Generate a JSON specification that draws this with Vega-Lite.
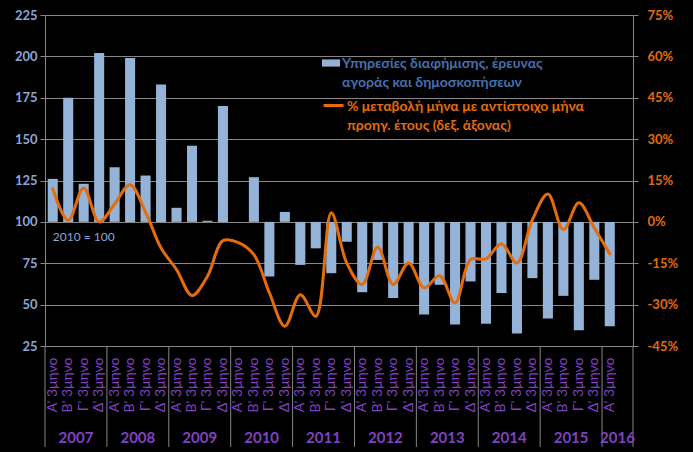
{
  "$schema": "https://vega.github.io/schema/vega-lite/v6.json",
  "width": 588,
  "height": 331,
  "autosize": {"type": "none"},
  "padding": {"left": 45, "top": 15, "right": 60, "bottom": 106},
  "background": "#000000",
  "config": {"view": {"stroke": null}, "font": "Lato"},
  "datasets": {
    "quarters": [
      {"q": "2007-1", "v": 126, "p": 12.0},
      {"q": "2007-2", "v": 175, "p": 0.6},
      {"q": "2007-3", "v": 123, "p": 12.3},
      {"q": "2007-4", "v": 202, "p": 0.0},
      {"q": "2008-1", "v": 133, "p": 6.5},
      {"q": "2008-2", "v": 199, "p": 13.5},
      {"q": "2008-3", "v": 128, "p": 3.5},
      {"q": "2008-4", "v": 183, "p": -9.5},
      {"q": "2009-1", "v": 108.5, "p": -17.3},
      {"q": "2009-2", "v": 146, "p": -26.7},
      {"q": "2009-3", "v": 100.7, "p": -19.7},
      {"q": "2009-4", "v": 170, "p": -6.8},
      {"q": "2010-1", "v": 100, "p": -7.5},
      {"q": "2010-2", "v": 127, "p": -11.9},
      {"q": "2010-3", "v": 67, "p": -25.7},
      {"q": "2010-4", "v": 106, "p": -37.8},
      {"q": "2011-1", "v": 74, "p": -26.4},
      {"q": "2011-2", "v": 84, "p": -34.2},
      {"q": "2011-3", "v": 69, "p": 3.3},
      {"q": "2011-4", "v": 88, "p": -14.9},
      {"q": "2012-1", "v": 57.5, "p": -22.7},
      {"q": "2012-2", "v": 77, "p": -9.1},
      {"q": "2012-3", "v": 54, "p": -22.7},
      {"q": "2012-4", "v": 75, "p": -14.9},
      {"q": "2013-1", "v": 44, "p": -23.9},
      {"q": "2013-2", "v": 62, "p": -19.5},
      {"q": "2013-3", "v": 38, "p": -29.4},
      {"q": "2013-4", "v": 64, "p": -13.7},
      {"q": "2014-1", "v": 38.4, "p": -13.4},
      {"q": "2014-2", "v": 57, "p": -7.9},
      {"q": "2014-3", "v": 32.5, "p": -14.9},
      {"q": "2014-4", "v": 66, "p": 0.8},
      {"q": "2015-1", "v": 41.6, "p": 10.1},
      {"q": "2015-2", "v": 55.3, "p": -2.8},
      {"q": "2015-3", "v": 34.5, "p": 6.9},
      {"q": "2015-4", "v": 65, "p": -2.2},
      {"q": "2016-1", "v": 37, "p": -11.6}
    ],
    "years": [
      {"year": "2007", "start": "2007-1", "mid": "2007-3"},
      {"year": "2008", "start": "2008-1", "mid": "2008-3"},
      {"year": "2009", "start": "2009-1", "mid": "2009-3"},
      {"year": "2010", "start": "2010-1", "mid": "2010-3"},
      {"year": "2011", "start": "2011-1", "mid": "2011-3"},
      {"year": "2012", "start": "2012-1", "mid": "2012-3"},
      {"year": "2013", "start": "2013-1", "mid": "2013-3"},
      {"year": "2014", "start": "2014-1", "mid": "2014-3"},
      {"year": "2015", "start": "2015-1", "mid": "2015-3"},
      {"year": "2016", "start": "2016-1", "mid": "2016-2"}
    ],
    "note": [{"label": "2010 = 100", "q": "2007-3"}]
  },
  "layer": [
    {
      "layer": [
        {
          "data": {"name": "quarters"},
          "mark": {"type": "bar", "width": {"band": 0.65}},
          "encoding": {
            "x": {
              "field": "q", "type": "nominal", "sort": null, "title": null,
              "scale": {
                "type": "band", "paddingInner": 0, "paddingOuter": 0,
                "domain": ["2007-1","2007-2","2007-3","2007-4","2008-1","2008-2","2008-3","2008-4","2009-1","2009-2","2009-3","2009-4","2010-1","2010-2","2010-3","2010-4","2011-1","2011-2","2011-3","2011-4","2012-1","2012-2","2012-3","2012-4","2013-1","2013-2","2013-3","2013-4","2014-1","2014-2","2014-3","2014-4","2015-1","2015-2","2015-3","2015-4","2016-1","2016-2"]
              },
              "axis": {
                "title": null, "labelAngle": -90, "ticks": false, "domain": true, "domainColor": "#868686",
                "labelColor": "#8042C2", "labelFontSize": 14, "labelPadding": 11, "labelOverlap": false,
                "labelExpr": "slice(datum.value,5) == '1' ? \"Α' 3μηνο\" : slice(datum.value,5) == '2' ? (datum.value == '2016-2' ? '' : \"Β' 3μηνο\") : slice(datum.value,5) == '3' ? \"Γ' 3μηνο\" : \"Δ' 3μηνο\""
              }
            },
            "y": {
              "field": "v", "type": "quantitative", "title": null,
              "scale": {"domain": [25, 225], "nice": false, "zero": false},
              "axis": {
                "title": null, "values": [25, 50, 75, 100, 125, 150, 175, 200, 225],
                "grid": true, "gridColor": "#868686", "domainColor": "#868686", "tickColor": "#868686", "tickSize": 5,
                "labelColor": "#8BA6D6", "labelFontSize": 13, "labelFontWeight": "bold", "labelPadding": 3
              }
            },
            "y2": {"datum": 100},
            "fill": {
              "datum": "Υπηρεσίες διαφήμισης, έρευνας|αγοράς και δημοσκοπήσεων",
              "scale": {"range": ["#95B3D7"]},
              "legend": {
                "title": null, "orient": "none", "legendX": 277, "legendY": 39, "padding": 0,
                "symbolType": "M-1,-0.4H1V0.4H-1Z", "symbolSize": 324, "symbolStrokeWidth": 0,
                "labelColor": "#4670AE", "labelFontSize": 14, "labelFontWeight": "bold", "labelLimit": 400,
                "labelOffset": 2, "labelBaseline": "alphabetic",
                "labelExpr": "split(datum.label, '|')",
                "encode": {"labels": {"update": {"dy": {"value": 5}, "lineHeight": {"value": 19}}}}
              }
            }
          }
        },
        {
          "data": {"name": "years"},
          "mark": {"type": "rule", "color": "#868686", "strokeWidth": 1},
          "encoding": {
            "x": {"field": "start", "type": "nominal", "bandPosition": 0, "title": null},
            "y": {"datum": 25, "title": null},
            "y2": {"datum": -36}
          }
        },
        {
          "data": {"name": "years"},
          "transform": [{"filter": "datum.year == '2016'"}],
          "mark": {"type": "rule", "color": "#868686", "strokeWidth": 1},
          "encoding": {
            "x": {"field": "mid", "type": "nominal", "bandPosition": 1, "title": null},
            "y": {"datum": 25, "title": null},
            "y2": {"datum": -36}
          }
        },
        {
          "data": {"name": "years"},
          "mark": {"type": "text", "color": "#8042C2", "fontSize": 15, "fontWeight": "bold", "baseline": "middle", "align": "center"},
          "encoding": {
            "x": {"field": "mid", "type": "nominal", "bandPosition": 0, "title": null},
            "y": {"datum": -30.5, "title": null},
            "text": {"field": "year"}
          }
        },
        {
          "data": {"name": "note"},
          "mark": {"type": "text", "color": "#8BA6D6", "fontSize": 12, "baseline": "middle", "align": "center"},
          "encoding": {
            "x": {"field": "q", "type": "nominal", "title": null},
            "y": {"datum": 91, "title": null},
            "text": {"field": "label"}
          }
        }
      ]
    },
    {
      "data": {"name": "quarters"},
      "mark": {"type": "line", "interpolate": "catmull-rom", "strokeWidth": 3, "strokeCap": "round"},
      "encoding": {
        "x": {"field": "q", "type": "nominal", "title": null},
        "y": {
          "field": "p", "type": "quantitative", "title": null,
          "scale": {"domain": [-45, 75], "nice": false, "zero": false},
          "axis": {
            "orient": "right", "title": null, "values": [-45, -30, -15, 0, 15, 30, 45, 60, 75],
            "grid": false, "domainColor": "#868686", "tickColor": "#868686", "tickSize": 5,
            "labelColor": "#E46C0A", "labelFontSize": 13, "labelFontWeight": "bold", "labelPadding": 9,
            "labelExpr": "datum.value + '%'"
          }
        },
        "stroke": {
          "datum": "% μεταβολή μήνα με αντίστοιχο μήνα|προηγ. έτους (δεξ. άξονας)",
          "scale": {"range": ["#E46C0A"]},
          "legend": {
            "title": null, "orient": "none", "legendX": 277, "legendY": 79, "padding": 0,
            "symbolType": "stroke", "symbolSize": 400, "symbolStrokeWidth": 3,
            "labelColor": "#E46C0A", "labelFontSize": 14, "labelFontWeight": "bold", "labelLimit": 400,
            "labelOffset": 2, "labelBaseline": "alphabetic",
            "labelExpr": "split(datum.label, '|')",
            "encode": {"labels": {"update": {"dy": {"value": 5}, "lineHeight": {"value": 19}}}}
          }
        }
      }
    }
  ],
  "resolve": {"scale": {"y": "independent"}}
}
